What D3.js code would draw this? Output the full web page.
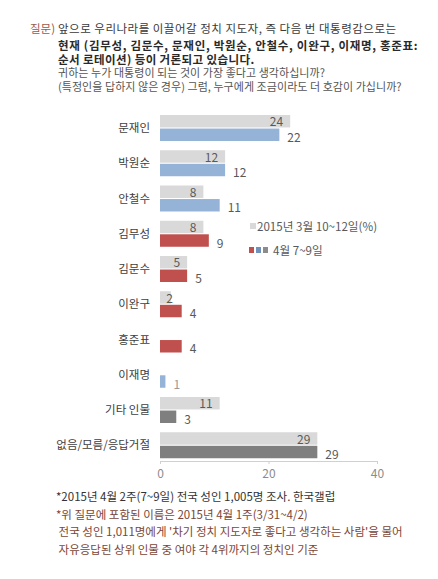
<!DOCTYPE html>
<html>
<head>
<meta charset="utf-8">
<script src="https://cdn.jsdelivr.net/npm/d3@7"></script>
<style>
  body { margin: 0; background: #fff; }
  text { font-family: "Noto Sans CJK KR", "Noto Sans", sans-serif; }
</style>
</head>
<body>
<div id="canvas"></div>
<script>
const categories = ["문재인", "박원순", "안철수", "김무성", "김문수", "이완구", "홍준표", "이재명", "기타 인물", "없음/모름/응답거절"];
const march = [24, 12, 8, 8, 5, 2, null, null, 11, 29];
const april = [22, 12, 11, 9, 5, 4, 4, 1, 3, 29];
const camp = ["야권", "야권", "야권", "여권", "여권", "여권", "여권", "야권", "기타", "기타"];
const xTicks = [0, 20, 40];

const question = [
  { t: "앞으로 우리나라를 이끌어갈 정치 지도자, 즉 다음 번 대통령감으로는", b: false, c: "#3a3a3a", s: 11.5, ls: 0.5 },
  { t: "현재 (김무성, 김문수, 문재인, 박원순, 안철수, 이완구, 이재명, 홍준표:", b: true, c: "#2a2a2a", s: 11.5, ls: 0.7 },
  { t: "순서 로테이션) 등이 거론되고 있습니다.", b: true, c: "#2a2a2a", s: 11.5, ls: 0.4 },
  { t: "귀하는 누가 대통령이 되는 것이 가장 좋다고 생각하십니까?", b: false, c: "#555", s: 11, ls: 0.05 },
  { t: "(특정인을 답하지 않은 경우) 그럼, 누구에게 조금이라도 더 호감이 가십니까?", b: false, c: "#555", s: 11, ls: 0.05 }
];
const notes = [
  "*2015년 4월 2주(7~9일) 전국 성인 1,005명 조사. 한국갤럽",
  "*위 질문에 포함된 이름은 2015년 4월 1주(3/31~4/2)",
  " 전국 성인 1,011명에게 '차기 정치 지도자로 좋다고 생각하는 사람'을 물어",
  " 자유응답된 상위 인물 중 여야 각 4위까지의 정치인 기준"
];

const width = 438, height = 579;
const svg = d3.select("#canvas").append("svg")
  .attr("width", width)
  .attr("height", height);

// question header
svg.append("text")
  .attr("x", 30).attr("y", 33)
  .attr("font-size", 11.5)
  .attr("fill", "#9a5a4a")
  .text("질문)");

const lineY = [33, 50, 63.5, 77, 90.5];
svg.selectAll("text.q")
  .data(question)
  .enter().append("text")
  .attr("class", "q")
  .attr("x", 58)
  .attr("y", (d, i) => lineY[i])
  .attr("font-size", d => d.s)
  .attr("letter-spacing", d => d.ls)
  .attr("font-weight", d => d.b ? "bold" : "normal")
  .attr("fill", d => d.c)
  .text(d => d.t);

// scales
const x = d3.scaleLinear().domain([0, 40]).range([160, 377]);
const y = d3.scaleBand().domain(categories).range([110.4, 462.9]);
const sub = d3.scaleBand().domain(["march", "april"]).range([4.6, 30.6]).paddingInner(0.08);

const campColor = d3.scaleOrdinal()
  .domain(["야권", "여권", "기타"])
  .range(["#95b3d7", "#c0504d", "#7f7f7f"]);

const rows = categories.map((c, i) => ({ c, m: march[i], a: april[i], camp: camp[i] }));

const groups = svg.selectAll("g.row")
  .data(rows)
  .enter().append("g")
  .attr("class", "row")
  .attr("transform", d => `translate(0,${y(d.c)})`);

// category labels
groups.append("text")
  .attr("x", 150)
  .attr("y", y.bandwidth() / 2 + 4)
  .attr("text-anchor", "end")
  .attr("font-size", 11.5)
  .attr("fill", "#404040")
  .text(d => d.c);

// March bars
const mRows = groups.filter(d => d.m != null);
mRows.append("rect")
  .attr("x", x(0))
  .attr("y", sub("march"))
  .attr("width", d => x(d.m) - x(0))
  .attr("height", sub.bandwidth())
  .attr("fill", "#d9d9d9");
mRows.append("text")
  .attr("x", d => Math.max(x(d.m) - 7, x(0) + 13))
  .attr("y", sub("march") + sub.bandwidth() - 1)
  .attr("text-anchor", "end")
  .attr("font-size", 12)
  .attr("fill", "#595959")
  .text(d => d.m);

// April bars
groups.append("rect")
  .attr("x", x(0))
  .attr("y", sub("april"))
  .attr("width", d => x(d.a) - x(0))
  .attr("height", sub.bandwidth())
  .attr("fill", d => campColor(d.camp));
groups.append("text")
  .attr("x", d => x(d.a) + 8)
  .attr("y", sub("april") + sub.bandwidth() + 1)
  .attr("font-size", 12)
  .attr("fill", d => d.a < 2 ? "#9a9a9a" : "#595959")
  .text(d => d.a);

// x axis
const xAxis = svg.append("g")
  .attr("transform", "translate(0,461)")
  .call(d3.axisBottom(x).tickValues(xTicks).tickSize(3).tickPadding(5));
xAxis.select(".domain").attr("stroke", "#d0d0d0");
xAxis.selectAll(".tick line").attr("stroke", "#d0d0d0");
xAxis.selectAll(".tick text")
  .attr("font-size", 12)
  .attr("fill", "#8c8c8c")
  .style("font-family", "\"Noto Sans CJK KR\", sans-serif");

// legend
const legend = svg.append("g");
legend.append("rect").attr("x", 250).attr("y", 223).attr("width", 6).attr("height", 6).attr("fill", "#d9d9d9");
legend.append("text").attr("x", 257).attr("y", 231).attr("font-size", 11.6).attr("fill", "#595959")
  .text("2015년 3월 10~12일(%)");
legend.selectAll("rect.sw")
  .data(["#c0504d", "#6f92bd", "#8c8c8c"])
  .enter().append("rect")
  .attr("class", "sw")
  .attr("x", (d, i) => 249 + i * 7)
  .attr("y", 247)
  .attr("width", 5).attr("height", 6)
  .attr("fill", d => d);
legend.append("text").attr("x", 273).attr("y", 255).attr("font-size", 11.6).attr("fill", "#595959")
  .text("4월 7~9일");

// notes
svg.selectAll("text.note")
  .data(notes)
  .enter().append("text")
  .attr("class", "note")
  .attr("x", 56)
  .attr("y", (d, i) => 501 + i * 17.5)
  .attr("font-size", 11.5)
  .attr("fill", (d, i) => i === 0 ? "#333" : "#7a4638")
  .attr("xml:space", "preserve")
  .style("white-space", "pre")
  .text(d => d);
</script>
</body>
</html>
